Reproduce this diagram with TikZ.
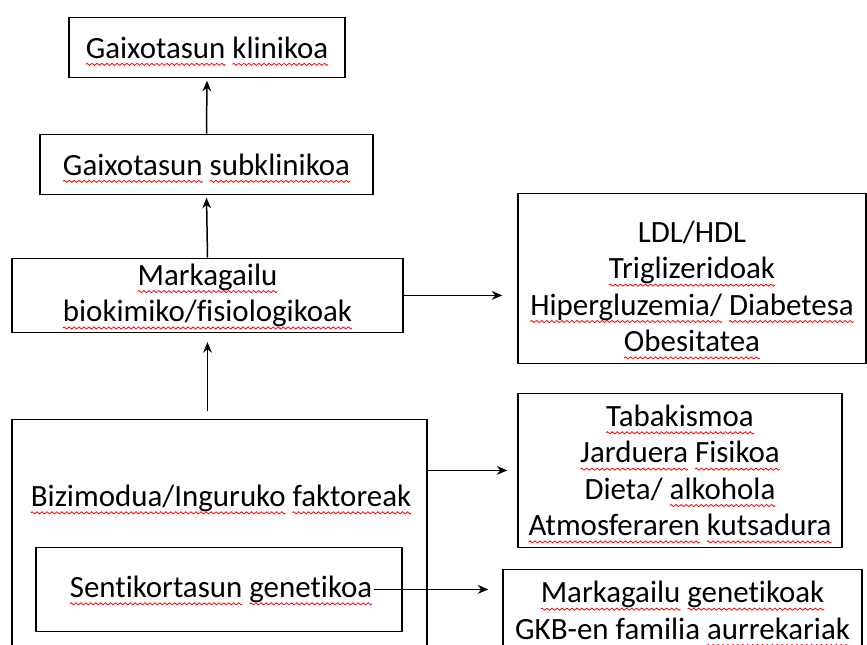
\documentclass[tikz,border=0pt]{standalone}
\usepackage{fontspec}
\setmainfont{Carlito}[Ligatures=CommonOff]
\usepackage{tikz}
\usetikzlibrary{positioning,calc,arrows.meta}

% red spell-check squiggle under a word
\newsavebox\wavetile
\newsavebox\wordbox
\newcommand\redwave[1]{\sbox\wordbox{#1}%
  \rlap{\smash{\raisebox{-4.4pt}{\hbox to \wd\wordbox{\xleaders\copy\wavetile\hfill}}}}%
  \usebox\wordbox}

\begin{document}
\begin{tikzpicture}[
  font=\fontsize{17.6}{20.7}\selectfont,
  >={Stealth[length=6pt,width=5pt]},
  box/.style={rectangle, draw=black, line width=0.8pt, align=center,
    inner sep=2pt},
  txt/.style={inner sep=0pt, align=center},
  ar/.style={->, line width=0.85pt, draw=black}
]
\sbox\wavetile{\begin{pgfpicture}
  \pgfpathrectangle{\pgfpoint{0pt}{-0.8pt}}{\pgfpoint{2.8pt}{1.6pt}}
  \pgfusepath{use as bounding box}
  \pgfsetlinewidth{0.45pt}\pgfsetstrokecolor{red}
  \pgfpathmoveto{\pgfpoint{0pt}{0pt}}
  \pgfpathcurveto{\pgfpoint{0.45pt}{0.8pt}}{\pgfpoint{0.95pt}{0.8pt}}{\pgfpoint{1.4pt}{0pt}}
  \pgfpathcurveto{\pgfpoint{1.85pt}{-0.8pt}}{\pgfpoint{2.35pt}{-0.8pt}}{\pgfpoint{2.8pt}{0pt}}
  \pgfusepath{stroke}
\end{pgfpicture}}
\useasboundingbox (0,0) rectangle (17.34,-12.86);
% Disease chain
\node[box, minimum width=5.52cm, minimum height=1.2cm] (clin) at (4.14,-0.92)
  {\redwave{Gaixotasun} \redwave{klinikoa}};
\node[box, minimum width=6.66cm, minimum height=1.2cm] (subclin) at (4.13,-3.26)
  {\redwave{Gaixotasun} \redwave{subklinikoa}};
\node[box, minimum width=7.82cm, minimum height=1.48cm] (marker) at (4.15,-5.88)
  {\redwave{Markagailu}\\\redwave{biokimiko/}\redwave{fisiologikoak}};
% Lifestyle box with genetic box inside
\node[box, minimum width=8.3cm, minimum height=4.84cm] (life) at (4.39,-10.78) {};
\node[txt] (lifetxt) at (4.42,-9.94)
  {\redwave{Bizimodua/}\redwave{Inguruko} \redwave{faktoreak}};
\node[box, minimum width=7.32cm, minimum height=1.68cm] (genbox) at (4.38,-11.76) {};
\node[txt] (sens) at (4.42,-11.76) {\redwave{Sentikortasun} \redwave{genetikoa}};
% Right-hand lists
\node[box, minimum width=6.96cm, minimum height=3.4cm] (ldl) at (13.84,-5.54) {};
\node[txt] (ldltxt) at (13.84,-5.70)
  {LDL/HDL\\\redwave{Triglizeridoak}\\\redwave{Hipergluzemia/} \redwave{Diabetesa}\\\redwave{Obesitatea}};
\node[box, minimum width=6.48cm, minimum height=3.08cm] (tab) at (13.6,-9.38)
  {\redwave{Tabakismoa}\\\redwave{Jarduera} \redwave{Fisikoa}\\Dieta/ \redwave{alkohola}\\\redwave{Atmosferaren} \redwave{kutsadura}};
\node[box, minimum width=7.18cm, minimum height=1.64cm] (gen) at (13.65,-12.18)
  {\redwave{Markagailu} \redwave{genetikoak}\\GKB-en familia \redwave{aurrekariak}};
% vertical arrows
\draw[ar, shorten >=1.5pt] (subclin.north) -- (clin.south);
\draw[ar, shorten >=1.5pt] (marker.north) -- (subclin.south);
\draw[ar, shorten <=0.16cm, shorten >=0.18cm] (marker.south |- life.north) -- (marker.south);
% horizontal arrows
\draw[ar, shorten >=0.3cm] (marker.east) -- (marker.east -| ldl.west);
\draw[ar, shorten >=0.2cm] (tab.west -| life.east) -- (tab.west);
\draw[ar, shorten <=1pt, shorten >=0.28cm] (sens.east) -- (sens.east -| gen.west);
\end{tikzpicture}
\end{document}
